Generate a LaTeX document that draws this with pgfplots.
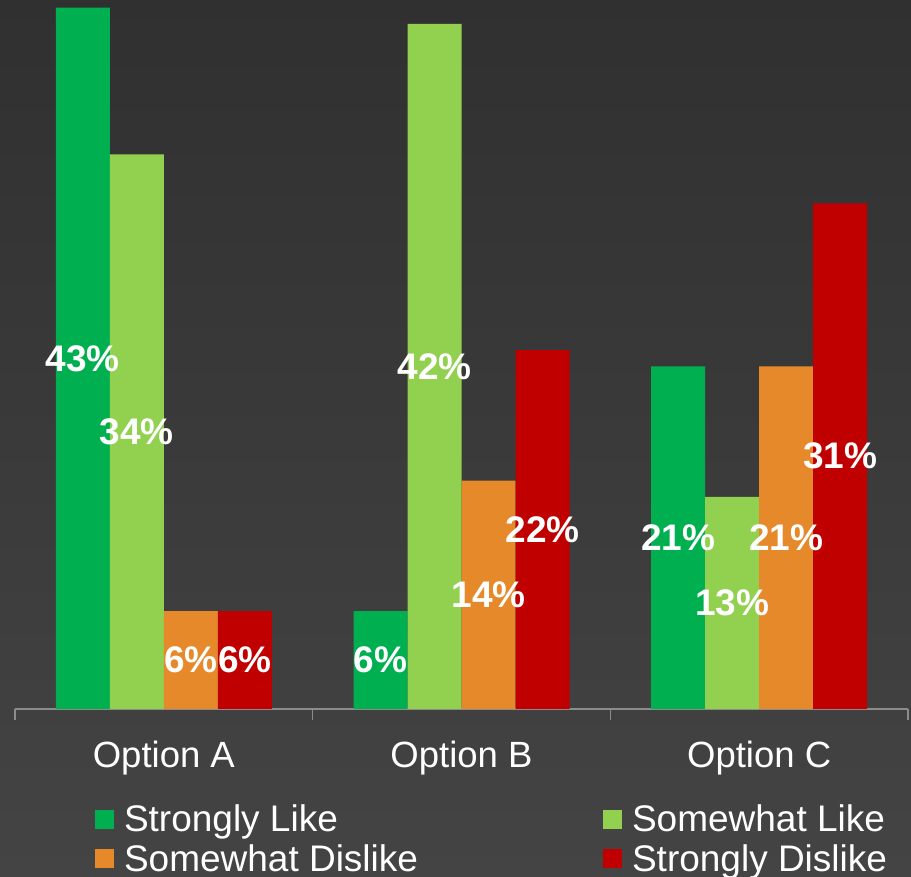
\documentclass[border=0pt]{standalone}
\usepackage{fontspec}
\setmainfont{Liberation Sans}
\usepackage{pgfplots}
\pgfplotsset{compat=1.18}
\definecolor{sl}{HTML}{00B050}
\definecolor{wl}{HTML}{92D050}
\definecolor{wd}{HTML}{E6892B}
\definecolor{sd}{HTML}{C00000}
\definecolor{bgtop}{HTML}{303030}
\definecolor{bgbot}{HTML}{444444}
\definecolor{axgray}{HTML}{8C8C8C}
\begin{document}
\begin{tikzpicture}[x=1pt,y=1pt]
\shade[top color=bgtop, bottom color=bgbot] (0,0) rectangle (911,877);
\useasboundingbox (0,0) rectangle (911,877);
\begin{axis}[
  at={(15pt,168pt)}, anchor=south west, scale only axis,
  width=893pt, height=709pt,
  xmin=-0.5, xmax=2.5, ymin=0, ymax=43.47,
  clip=false,
  ybar=0pt, bar width=54pt,
  axis y line=none, axis x line*=bottom,
  x axis line style={draw=axgray, line width=1.5pt},
  xtick={-0.5,0.5,1.5,2.5}, xticklabels={},
  tick align=outside, major tick length=11pt,
  x tick style={draw=axgray, line width=1.5pt},
  extra x ticks={0,1,2},
  extra x tick labels={Option A,Option B,Option C},
  extra x tick style={major tick length=0pt, tick style={draw=none},
    xticklabel style={anchor=base, yshift=-59pt}},
  xticklabel style={font=\fontsize{36.5}{37}\selectfont, text=white},
  /pgf/number format/assume math mode=true,
  visualization depends on={y \as \rawy},
  nodes near coords={\pgfmathprintnumber[assume math mode=true]{\pgfplotspointmeta}\%},
  every node near coord/.append style={font=\bfseries\fontsize{37}{37}\selectfont,
    text=white, anchor=center, inner sep=0pt, yshift={-\rawy*8.155pt}},
  legend columns=2,
  legend cell align=left,
  legend style={at={(0,0)}, anchor=north west, xshift=80pt, yshift=-95pt,
    draw=none, fill=none, inner sep=0pt, outer sep=0pt,
    font=\fontsize{37}{37}\selectfont, text=white,
    nodes={inner sep=1pt}, row sep=9pt,
    /tikz/every odd column/.append style={column sep=9pt},
    /tikz/every even column/.append style={column sep=184pt}},
  legend image code/.code={\fill[#1, draw=none] (0pt,-9.5pt) rectangle (19pt,9.5pt);},
]
\addplot[fill=sl, draw=none] coordinates {(0,43) (1,6) (2,21)};
\addplot[fill=wl, draw=none] coordinates {(0,34) (1,42) (2,13)};
\addplot[fill=wd, draw=none] coordinates {(0,6) (1,14) (2,21)};
\addplot[fill=sd, draw=none] coordinates {(0,6) (1,22) (2,31)};
\legend{Strongly Like, Somewhat Like, Somewhat Dislike, Strongly Dislike}
\end{axis}
\end{tikzpicture}
\end{document}
